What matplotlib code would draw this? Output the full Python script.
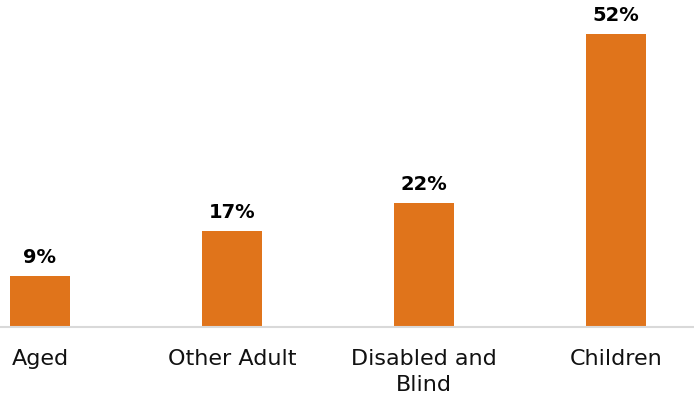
import matplotlib
matplotlib.use("Agg")
import matplotlib.pyplot as plt

categories = ["Aged", "Other Adult", "Disabled and\nBlind", "Children"]
values = [9, 17, 22, 52]
value_labels = ["9%", "17%", "22%", "52%"]

plt.rcParams['font.family'] = ['DejaVu Sans']

fig = plt.figure(figsize=(6.94, 4.02), dpi=100)
ax = fig.add_axes([0, 74/402, 1, 328/402])
x = list(range(len(categories)))
bars = ax.bar(x, values, width=60/192, color="#E0741B")
ax.set_xlim(-40/192, 654/192)
ax.set_ylim(0, 328/5.635)
for b, lab in zip(bars, value_labels):
    ax.annotate(lab, (b.get_x() + b.get_width()/2, b.get_height()),
                xytext=(0, 7.5), textcoords="offset points",
                ha="center", va="bottom", fontsize=14, fontweight="bold", color="black")
for s in ["top", "right", "left"]:
    ax.spines[s].set_visible(False)
ax.spines["bottom"].set_color("#D9D9D9")
ax.spines["bottom"].set_linewidth(1.5)
ax.set_yticks([])
ax.set_xticks(x)
ax.set_xticklabels(categories, fontsize=16, linespacing=1.4, color="#111111")
ax.tick_params(axis="x", length=0, pad=15)
fig.savefig("out.png", dpi=100)
